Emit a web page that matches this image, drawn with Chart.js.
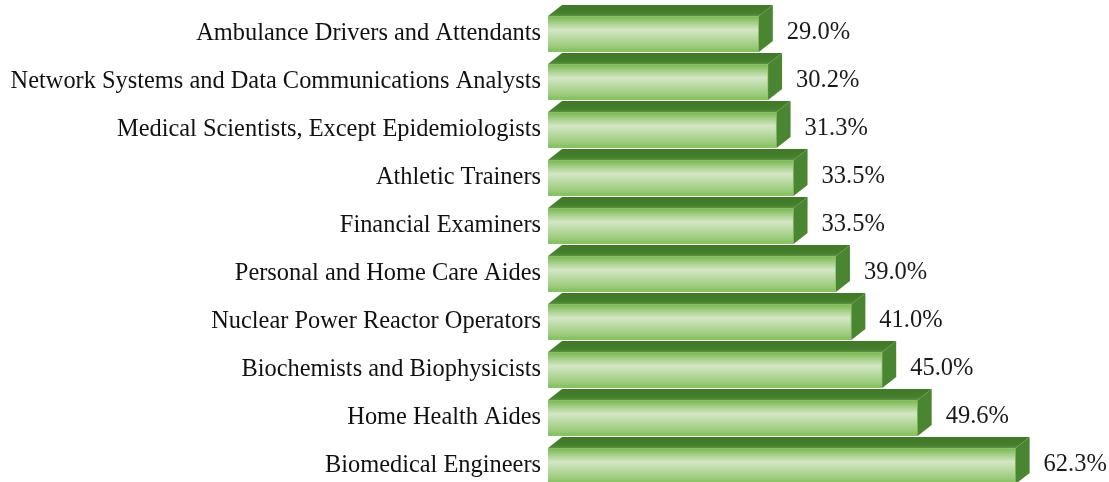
<!DOCTYPE html>
<html>
<head>
<meta charset="utf-8">
<script src="https://cdn.jsdelivr.net/npm/chart.js@4/dist/chart.umd.min.js"></script>
<style>
  html, body { margin: 0; padding: 0; background: #fff; overflow: hidden; }
  #wrap { width: 1109px; height: 490px; }
</style>
</head>
<body>
<div id="wrap"><canvas id="graph-jobs" width="1109" height="490"></canvas></div>
<script>
// ** DATA: ** //

var occupations = [
	'Ambulance Drivers and Attendants',
	'Network Systems and Data Communications Analysts',
	'Medical Scientists, Except Epidemiologists',
	'Athletic Trainers',
	'Financial Examiners',
	'Personal and Home Care Aides',
	'Nuclear Power Reactor Operators',
	'Biochemists and Biophysicists',
	'Home Health Aides',
	'Biomedical Engineers'
];
var growth = [29.0, 30.2, 31.3, 33.5, 33.5, 39.0, 41.0, 45.0, 49.6, 62.3];

// ** FUNCTIONS: ** //

var DEPTH_X = 14;
var DEPTH_Y = 11;

function frontGradient(context){
	var chart = context.chart;
	var yScale = chart.scales.y;
	var yc = yScale ? yScale.getPixelForValue(context.dataIndex) : NaN;
	if (!isFinite(yc)) {
		return '#a9d18e';
	}
	var g = chart.ctx.createLinearGradient(0, yc - 18, 0, yc + 18);
	g.addColorStop(0, '#79b556');
	g.addColorStop(0.1, '#8fc46c');
	g.addColorStop(0.38, '#d2e7c3');
	g.addColorStop(0.55, '#c0ddab');
	g.addColorStop(0.85, '#9acb78');
	g.addColorStop(1, '#80bb5a');
	return g;
}

var boxPlugin = {
	id: 'box3d',
	afterDatasetsDraw: function(chart){
		var ctx = chart.ctx;
		var meta = chart.getDatasetMeta(0);
		ctx.save();
		for (var i = 0; i < meta.data.length; i++) {
			var bar = meta.data[i];
			var left = Math.max(bar.base, chart.chartArea.left);
			var right = bar.x;
			var top = bar.y - bar.height / 2;
			var bottom = bar.y + bar.height / 2;

			// top face
			var tg = ctx.createLinearGradient(0, top - DEPTH_Y, 0, top);
			tg.addColorStop(0, '#3f7a29');
			tg.addColorStop(0.75, '#467f2e');
			tg.addColorStop(1, '#5a9640');
			ctx.fillStyle = tg;
			ctx.beginPath();
			ctx.moveTo(left, top);
			ctx.lineTo(left + DEPTH_X, top - DEPTH_Y);
			ctx.lineTo(right + DEPTH_X, top - DEPTH_Y);
			ctx.lineTo(right, top);
			ctx.closePath();
			ctx.fill();

			// side face
			ctx.fillStyle = '#4a8531';
			ctx.beginPath();
			ctx.moveTo(right, top);
			ctx.lineTo(right + DEPTH_X, top - DEPTH_Y);
			ctx.lineTo(right + DEPTH_X, bottom - DEPTH_Y);
			ctx.lineTo(right, bottom);
			ctx.closePath();
			ctx.fill();

			// value label
			ctx.fillStyle = '#1a1a1a';
			ctx.font = '24.5px "Liberation Serif"';
			ctx.textAlign = 'left';
			ctx.textBaseline = 'middle';
			ctx.fillText(growth[i].toFixed(1) + '%', right + DEPTH_X + 14, bar.y - 1);
		}
		ctx.restore();
	}
};

function generateGraph(graphID){
	var graph = document.getElementById(graphID);
	return new Chart(graph, {
		type: 'bar',
		data: {
			labels: occupations,
			datasets: [{
				data: growth,
				backgroundColor: frontGradient,
				borderColor: '#8ec66b',
				borderWidth: 1,
				borderSkipped: false,
				barThickness: 36
			}]
		},
		options: {
			indexAxis: 'y',
			responsive: false,
			animation: false,
			devicePixelRatio: 1,
			layout: {padding: {left: 0, right: 34, top: 10, bottom: 0}},
			plugins: {legend: {display: false}, tooltip: {enabled: false}},
			scales: {
				x: {min: 1.66, max: 70, display: false},
				y: {
					grid: {display: false, drawTicks: false},
					border: {display: false},
					ticks: {
						color: '#111',
						padding: 7,
						font: {family: '"Liberation Serif"', size: 24.4}
					},
					afterFit: function(scale){
						scale.width = 548;
						scale.paddingTop = 0;
						scale.paddingBottom = 0;
					}
				}
			}
		},
		plugins: [boxPlugin]
	});
}

// ** ENTRY POINT: ** //

generateGraph('graph-jobs');
</script>
</body>
</html>
